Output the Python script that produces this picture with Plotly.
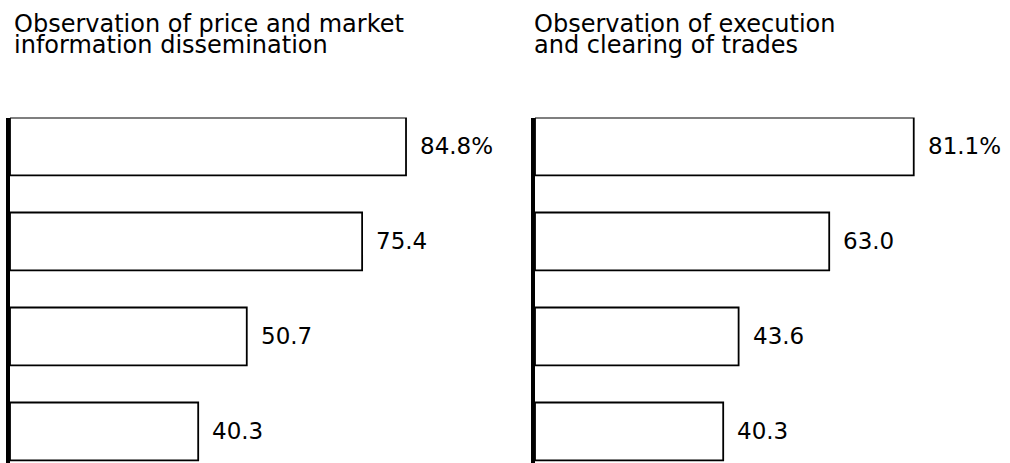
import plotly.graph_objects as go

# Data
rows = ["1", "2", "3", "4"]
price_info_values = [84.8, 75.4, 50.7, 40.3]
execution_values = [81.1, 63.0, 43.6, 40.3]
panel_titles = [
    ["Observation of price and market", "information dissemination"],
    ["Observation of execution", "and clearing of trades"],
]

W, H = 1010, 463
FONT = "DejaVu Sans"


def fx(p):
    return p / W


def fy(p):
    return 1 - p / H


def label_texts(values):
    out = []
    for i, v in enumerate(values):
        s = f"{v:.1f}"
        out.append(s + "%" if i == 0 else s)
    return out


bargap = 0.39
half = (1 - bargap) / 2
pitch = 95.0
top_px = 117.5
y_bottom = (H - top_px) / pitch - half

fig = go.Figure()

panels = [
    (price_info_values, "x", "y", 10, 477),
    (execution_values, "x2", "y2", 535, 1002),
]

for vals, xa, ya, x0, x1 in panels:
    ypos = list(range(len(rows)))
    fig.add_trace(
        go.Bar(
            x=vals,
            y=ypos,
            orientation="h",
            marker=dict(color="white", line=dict(color="black", width=1.8)),
            xaxis=xa,
            yaxis=ya,
            hoverinfo="skip",
            showlegend=False,
        )
    )
    for v, t, yp in zip(vals, label_texts(vals), ypos):
        fig.add_annotation(
            x=v, y=yp, xref=xa, yref=ya, text=t, showarrow=False,
            xanchor="left", yanchor="middle", xshift=12,
            font=dict(family=FONT, size=23, color="black"),
        )

xaxis_common = dict(range=[0, 100], showgrid=False, zeroline=False,
                    showticklabels=False, ticks="", showline=False, fixedrange=True)
yaxis_common = dict(range=[y_bottom, -half], showgrid=False, zeroline=False,
                    showticklabels=False, ticks="", showline=True,
                    linecolor="black", linewidth=4, fixedrange=True,
                    domain=[0, fy(top_px)])

fig.update_layout(
    width=W, height=H,
    margin=dict(l=0, r=0, t=0, b=0),
    paper_bgcolor="white", plot_bgcolor="white",
    bargap=bargap,
    xaxis=dict(domain=[fx(10), fx(477)], anchor="y", **xaxis_common),
    xaxis2=dict(domain=[fx(535), fx(1002)], anchor="y2", **xaxis_common),
    yaxis=dict(anchor="x", **yaxis_common),
    yaxis2=dict(anchor="x2", **yaxis_common),
)

# Panel titles: the base font size sets the (tight) line spacing,
# the inner spans set the glyph size.
title_x = [12, 532]
for lines, tx in zip(panel_titles, title_x):
    text = "<br>".join(f"<span style='font-size:24px'>{ln}</span>" for ln in lines)
    fig.add_annotation(
        x=fx(tx), y=fy(7.5), xref="paper", yref="paper",
        text=text, showarrow=False, xanchor="left", yanchor="top",
        align="left",
        font=dict(family=FONT, size=16, color="black"),
    )

fig.write_html("out.html")
